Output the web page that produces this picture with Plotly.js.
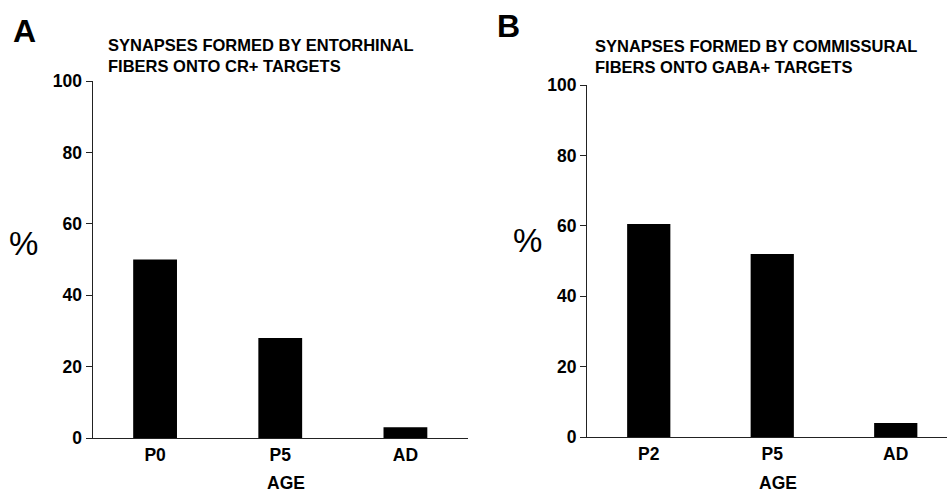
<!DOCTYPE html>
<html>
<head>
<meta charset="utf-8">
<script src="https://cdn.plot.ly/plotly-3.0.1.min.js"></script>
<style>html,body{margin:0;padding:0;background:#fff;}#chart{width:947px;height:492px;}</style>
</head>
<body>
<div id="chart"></div>
<script>
// Panel A data
const catsA = ['P0', 'P5', 'AD'];
const valsA = [50, 28, 3];
// Panel B data
const catsB = ['P2', 'P5', 'AD'];
const valsB = [60.5, 52, 4];
// Axis ticks
const yTicks = [0, 20, 40, 60, 80, 100];
// Texts
const titleA = 'SYNAPSES FORMED BY ENTORHINAL<br>FIBERS ONTO CR+ TARGETS';
const titleB = 'SYNAPSES FORMED BY COMMISSURAL<br>FIBERS ONTO GABA+ TARGETS';
const xTitle = 'AGE';
const yTitle = '%';

const FONT = '"Liberation Sans", Arial, Helvetica, sans-serif';
const W = 947, H = 492;
const px = v => v / W;
const py = v => 1 - v / H;

const data = [
  {type: 'bar', x: catsA, y: valsA, xaxis: 'x', yaxis: 'y', width: 0.35,
   marker: {color: '#000', line: {width: 0}}, hoverinfo: 'x+y'},
  {type: 'bar', x: catsB, y: valsB, xaxis: 'x2', yaxis: 'y2', width: 0.35,
   marker: {color: '#000', line: {width: 0}}, hoverinfo: 'x+y'}
];

const yax = (anchor, dom) => ({
  anchor: anchor, domain: dom, range: [0, 100], tickvals: yTicks,
  showline: true, linecolor: '#222', linewidth: 1, ticks: 'outside', ticklen: 6,
  tickwidth: 1, tickcolor: '#222', showgrid: false, zeroline: false,
  tickfont: {family: FONT, size: 17.5, color: '#000', weight: 'bold'}, fixedrange: true
});
const xax = (anchor, dom, range) => ({
  anchor: anchor, domain: dom, range: range, type: 'category',
  showline: true, linecolor: '#222', linewidth: 1.3, ticks: 'outside', ticklen: 1,
  tickcolor: 'rgba(0,0,0,0)', showgrid: false, zeroline: false,
  tickfont: {family: FONT, size: 17.5, color: '#000', weight: 'bold'}, fixedrange: true
});

const ann = (text, x, y, size, weight, xanchor) => ({
  text: text, xref: 'paper', yref: 'paper', x: px(x), y: py(y),
  xanchor: xanchor || 'center', yanchor: 'middle', showarrow: false, align: 'left',
  font: {family: FONT, size: size, color: '#000', weight: weight}
});

const layout = {
  width: W, height: H, margin: {l: 0, r: 0, t: 0, b: 0},
  paper_bgcolor: '#fff', plot_bgcolor: '#fff', showlegend: false,
  xaxis: xax('y', [px(92.5), px(468)], [-0.5, 2.5]),
  yaxis: yax('x', [py(438), py(81)]),
  xaxis2: xax('y2', [px(587), px(947)], [-0.5, 2.415]),
  yaxis2: yax('x2', [py(437), py(85)]),
  annotations: [
    ann('A', 24, 31, 32, 'bold'),
    ann('B', 508, 26, 32, 'bold'),
    ann(titleA, 106, 56, 16.5, 'bold', 'left'),
    ann(titleB, 593, 57, 16.5, 'bold', 'left'),
    ann(yTitle, 23, 243, 33, 'normal'),
    ann(yTitle, 527, 241, 33, 'normal'),
    ann(xTitle, 286, 483, 17.5, 'bold'),
    ann(xTitle, 778, 483, 17.5, 'bold')
  ]
};

Plotly.newPlot('chart', data, layout, {staticPlot: true, displayModeBar: false});
</script>
</body>
</html>
